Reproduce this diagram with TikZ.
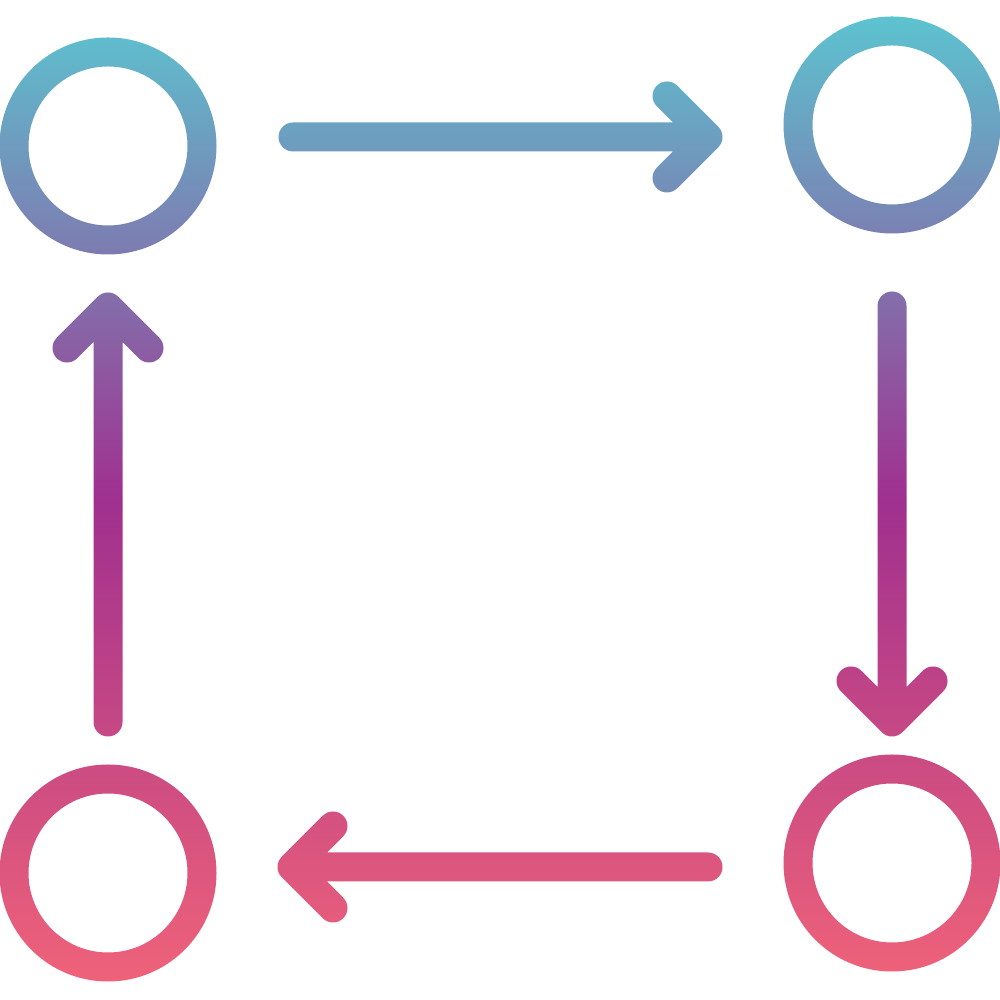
\documentclass[tikz,border=0pt]{standalone}
\usepackage{tikz}
\usepackage{xcolor}
\usetikzlibrary{fadings,positioning}

\definecolor{topteal}{RGB}{90,200,210}
\definecolor{midplum}{RGB}{160,48,143}
\definecolor{lowrose}{RGB}{242,100,120}

\tikzset{ring/.style={circle,draw=transparent!0,line width=2.9mm,inner sep=0pt,minimum size=18.8mm},
flow/.style={draw=transparent!0,line width=2.9mm,line cap=round,line join=round}}

% the four rings and the four arrows, drawn as a mask
\begin{tikzfadingfrompicture}[name=cycle]
\useasboundingbox (0,0) rectangle (10,10);
\node (tl) at (1.08,8.54) [ring] {};
\node (tr) at (8.92,8.75) [ring] {};
\node (br) at (8.92,1.37) [ring] {};
\node (bl) at (1.08,1.27) [ring] {};
\coordinate (t1) at (2.93,8.63);
\coordinate (t2) at (7.08,8.63);
\coordinate (r1) at (8.92,6.94);
\coordinate (r2) at (8.92,2.78);
\coordinate (b1) at (7.08,1.33);
\coordinate (b2) at (2.92,1.33);
\coordinate (l1) at (1.08,2.78);
\coordinate (l2) at (1.08,6.93);
\draw[flow] (t1) -- (t2) ++(-0.41,0.41) -- (t2) -- ++(-0.41,-0.41);
\draw[flow] (r1) -- (r2) ++(-0.41,0.41) -- (r2) -- ++(0.41,0.41);
\draw[flow] (b1) -- (b2) ++(0.41,0.41) -- (b2) -- ++(0.41,-0.41);
\draw[flow] (l1) -- (l2) ++(-0.41,-0.41) -- (l2) -- ++(0.41,-0.41);
\end{tikzfadingfrompicture}

\begin{document}
\begin{tikzpicture}
\fill[white] (0,0) rectangle (10,10);
\shade[path fading=cycle,fit fading=false,fading transform={shift={(5,5)}},
top color=topteal,bottom color=lowrose,middle color=midplum] (0,0) rectangle (10,10);
\end{tikzpicture}
\end{document}
